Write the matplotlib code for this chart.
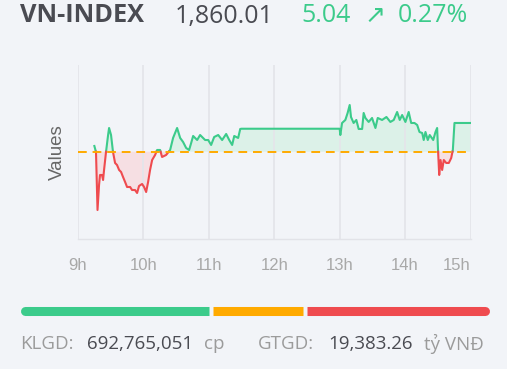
import numpy as np
import matplotlib
matplotlib.use("Agg")
import matplotlib.pyplot as plt

plt.rcParams['font.family'] = ['Open Sans', 'DejaVu Sans']

# ---------------- data ----------------
REF = 1854.97          # previous close
LAST = 1860.01
CHANGE = 5.04
CHANGE_PCT = 0.27

# minutes after 09:00 and index level
minutes = [15, 16.5, 17.9, 19.3, 20.2, 22.0, 23.0, 23.9, 25.7, 27.6, 28.5, 30.3, 32.1,
           34.0, 35.8, 37.7, 39.5, 41.3, 43.2, 45.0, 47.8, 49.6, 52.3, 54.2, 56.0,
           58.8, 60.6, 62.5, 64.3, 66.1, 68.0, 70.7, 72.6, 75.3, 77.1, 80.8, 84.5,
           87.2, 90.9, 93.7, 96.4, 99.2, 101.9, 103.8, 105.6, 109.3, 112.0, 116.6,
           119.4, 122.1, 124.9, 128.6, 132.2, 135.9, 138.7, 141.4, 143.3, 146.9,
           148.8, 150.0, 240.0, 240.6, 242.2, 245.2, 247.3, 249.2, 250.4, 252.8,
           255.3, 257.4, 260.6, 262.0, 263.6, 266.6, 269.7, 272.8, 274.9, 278.9,
           282.9, 286.5, 289.6, 292.7, 295.1, 297.3, 300.3, 303.3, 305.6, 308.6,
           311.1, 313.2, 315.7, 317.1, 318.7, 320.8, 322.6, 325.8, 327.9, 329.4,
           330.3, 331.3, 332.5, 334.0, 335.5, 337.7, 340.1, 342.3, 343.8, 345.3, 360.0]
values = [1855.97, 1854.92, 1844.73, 1849.12, 1850.88, 1850.88, 1850.00, 1851.76,
          1854.92, 1857.90, 1859.13, 1857.90, 1854.92, 1852.99, 1852.63, 1851.76,
          1851.41, 1850.53, 1849.65, 1848.77, 1848.77, 1848.24, 1848.24, 1847.72,
          1848.95, 1849.30, 1848.77, 1847.89, 1849.65, 1851.76, 1853.51, 1854.39,
          1855.27, 1855.27, 1854.04, 1854.39, 1855.27, 1857.38, 1859.13, 1857.38,
          1856.67, 1855.62, 1855.27, 1856.50, 1857.73, 1857.02, 1857.90, 1857.02,
          1857.02, 1856.15, 1857.55, 1857.90, 1857.02, 1858.08, 1857.02, 1856.15,
          1857.73, 1857.38, 1858.96, 1859.00, 1859.00, 1857.90, 1860.01, 1860.54,
          1861.77, 1863.17, 1861.06, 1860.01, 1860.54, 1858.96, 1858.96, 1861.77,
          1860.89, 1860.19, 1860.89, 1859.13, 1860.89, 1860.54, 1861.06, 1860.19,
          1860.54, 1861.94, 1860.54, 1861.41, 1860.19, 1861.94, 1860.01, 1860.01,
          1859.66, 1858.43, 1858.25, 1857.02, 1858.43, 1857.02, 1857.90, 1857.02,
          1858.43, 1859.13, 1854.92, 1850.88, 1853.51, 1851.76, 1853.51, 1852.99,
          1852.99, 1853.86, 1855.27, 1860.01, 1860.01]

hour_ticks = [0, 60, 120, 180, 240, 300, 360]
hour_labels = ["9h", "10h", "11h", "12h", "13h", "14h", "15h"]

breadth = [189, 91, 182]   # advancing / unchanged / declining (bar lengths)
volume = "692,765,051"
turnover = "19,383.26"

# ---------------- colours ----------------
BG = "#f2f4f8"
GREEN = "#3ccb8b"
RED = "#ef4b4f"
ORANGE = "#ffaa00"
DARK = "#4a4b52"
GREY = "#9b9b9b"


def split_at_ref(t, v, ref):
    tt, vv = [t[0]], [v[0]]
    for i in range(1, len(t)):
        a, b = v[i - 1] - ref, v[i] - ref
        if a * b < 0:
            f = a / (a - b)
            tt.append(t[i - 1] + f * (t[i] - t[i - 1]))
            vv.append(ref)
        tt.append(t[i]); vv.append(v[i])
    return np.array(tt), np.array(vv)


W, H = 507, 369
fig = plt.figure(figsize=(W / 100, H / 100), dpi=100, facecolor=BG)
ax = fig.add_axes([78 / W, 1 - 239 / H, (470.5 - 78) / W, (239 - 65) / H])
ax.set_facecolor("none")

t, v = split_at_ref(minutes, values, REF)
ax.fill_between(t, v, REF, where=v >= REF, color="#dcf1e8", lw=0, zorder=1)
ax.fill_between(t, v, REF, where=v <= REF, color="#f6dfe3", lw=0, zorder=1)
ax.plot(t, np.where(v >= REF, v, np.nan), color=GREEN, lw=1.5, zorder=3)
ax.plot(t, np.where(v <= REF, v, np.nan), color=RED, lw=1.5, zorder=3)
ax.axhline(REF, color=ORANGE, lw=1.4, ls=(0, (4.5, 3)), zorder=4)

ax.set_xlim(0, 360)
ax.set_ylim(1839.64, 1870.19)
ax.set_xticks(hour_ticks)
ax.set_xticklabels(hour_labels, family=["Liberation Sans"], fontsize=12, color="#a8a8a8")
ax.get_xticklabels()[-1].set_horizontalalignment("right")
ax.tick_params(axis="x", length=0, pad=14)
ax.set_yticks([])
ax.grid(axis="x", color="#e4e5ea", lw=1.3, zorder=0)
for s in ["top", "right", "left"]:
    ax.spines[s].set_visible(False)
ax.spines["bottom"].set_color("#e2e3e8")
ax.spines["bottom"].set_linewidth(1.0)
ax.set_ylabel("Values", family=["Liberation Sans"], fontsize=13.5, color="#666666",
              labelpad=9)

# ---------------- header / footer in pixel coords ----------------
ov = fig.add_axes([0, 0, 1, 1])
ov.set_xlim(0, W); ov.set_ylim(H, 0); ov.axis("off")

ov.text(20, 16, "VN-INDEX", fontsize=18.3, weight="bold", color=DARK, va="center")
ov.text(175, 16, f"{LAST:,.2f}", fontsize=18, color=DARK, va="center")
ov.text(301, 16, f"{CHANGE:.2f}", fontsize=18, color=GREEN, va="center")
ov.text(364, 16, "↗", fontsize=18, color=GREEN, va="center",
        family=["DejaVu Sans"])
ov.text(398, 16, f"{CHANGE_PCT:.2f}%", fontsize=18, color=GREEN, va="center")

# market breadth bar
x0, x1, gap, yb, th = 20, 489, 4, 311, 6.5
total = sum(breadth)
span = x1 - x0 - gap * (len(breadth) - 1)
cols = [GREEN, ORANGE, RED]
pos = x0
for i, (b, c) in enumerate(zip(breadth, cols)):
    w = span * b / total
    a, e = pos, pos + w
    if i == 0:
        ov.plot([a + 4.5, a + 10], [yb, yb], color=c, lw=th, solid_capstyle="round")
        ov.plot([a + 8, e], [yb, yb], color=c, lw=th, solid_capstyle="butt")
    elif i == len(breadth) - 1:
        ov.plot([a, e - 8], [yb, yb], color=c, lw=th, solid_capstyle="butt")
        ov.plot([e - 10, e - 4.5], [yb, yb], color=c, lw=th, solid_capstyle="round")
    else:
        ov.plot([a, e], [yb, yb], color=c, lw=th, solid_capstyle="butt")
    pos = e + gap

ov.text(20, 344, "KLGD:", fontsize=13.5, color=GREY, va="center")
ov.text(87, 344, volume, fontsize=13.5, color=DARK, va="center")
ov.text(204, 344, "cp", fontsize=13.5, color=GREY, va="center")
ov.text(258, 344, "GTGD:", fontsize=13.5, color=GREY, va="center")
ov.text(328, 344, turnover, fontsize=13.5, color=DARK, va="center")
ov.text(424, 344, "tỷ VNĐ", fontsize=13.5, color=GREY, va="center")

fig.savefig("out.png", dpi=100, facecolor=BG)
